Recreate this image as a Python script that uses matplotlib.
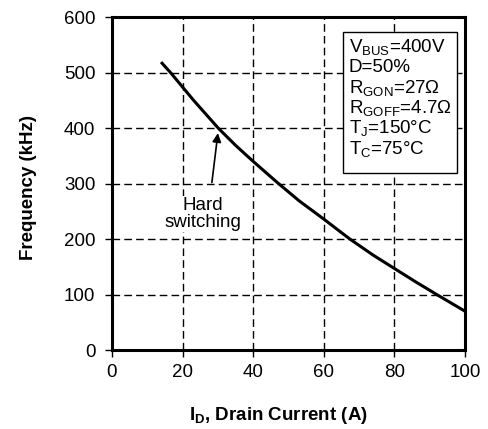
import numpy as np
import matplotlib
matplotlib.use("Agg")
import matplotlib.pyplot as plt

plt.rcParams['font.family'] = ['Liberation Sans', 'DejaVu Sans']
plt.rcParams['mathtext.fontset'] = 'custom'
plt.rcParams['mathtext.rm'] = 'Liberation Sans'
plt.rcParams['mathtext.bf'] = 'Liberation Sans:bold'

# curve
drain_current = [13.9, 16.6, 23, 30.1, 35, 40, 47, 53, 60, 67.4, 74, 80, 86, 92, 96, 100]
frequency = [519, 500, 451, 400, 369, 340, 301, 269, 236, 200, 171, 147, 123, 100, 85, 70]

x_ticks = [0, 20, 40, 60, 80, 100]
y_ticks = [0, 100, 200, 300, 400, 500, 600]

conditions = [r'$\mathregular{V_{BUS}}$=400V', 'D=50%',
              r'$\mathregular{R_{GON}}$=27Ω', r'$\mathregular{R_{GOFF}}$=4.7Ω',
              r'$\mathregular{T_{J}}$=150°C', r'$\mathregular{T_{C}}$=75°C']

fig = plt.figure(figsize=(4.89, 4.29), dpi=100)
ax = fig.add_axes([0.229, 0.184, 0.722, 0.776])

ax.plot(drain_current, frequency, color='black', lw=2.2, solid_capstyle='butt')

ax.set_xlim(0, 100)
ax.set_ylim(0, 600)
ax.set_xticks(x_ticks)
ax.set_yticks(y_ticks)
ax.tick_params(direction='out', length=5, width=1, labelsize=13.5)
ax.tick_params(axis='x', pad=5)
ax.tick_params(axis='y', pad=7)
ax.grid(True, color='black', linestyle=(0, (5.5, 3)), lw=1)
for s in ax.spines.values():
    s.set_linewidth(2.2)

fig.text(0.5695, 1 - 420 / 429, r'$\mathbf{I_{D}}$, Drain Current (A)', fontsize=13.5,
         fontweight='bold', ha='center', va='baseline')
fig.text(29 / 489, 1 - 188 / 429, 'Frequency (kHz)', fontsize=13.5, fontweight='bold',
         rotation=90, ha='center', va='center')

# conditions box
ax.add_patch(plt.Rectangle((65.4, 318.4), 32.4, 255.1, facecolor='white', edgecolor='black',
                           lw=1, zorder=3))
for i, t in enumerate(conditions):
    ax.text(67, 537.5 - i * 36.7, t, fontsize=13.5, va='baseline', ha='left', zorder=4)

ax.text(25.8, 245, 'Hard\nswitching', fontsize=13.5, ha='center', va='center',
        linespacing=1.0, bbox=dict(facecolor='white', edgecolor='none', pad=1))
ax.annotate('', xy=(30.1, 396), xytext=(28.2, 297),
            arrowprops=dict(arrowstyle='-|>', color='black', lw=1.2, mutation_scale=13))

fig.savefig('out.png', dpi=100)
